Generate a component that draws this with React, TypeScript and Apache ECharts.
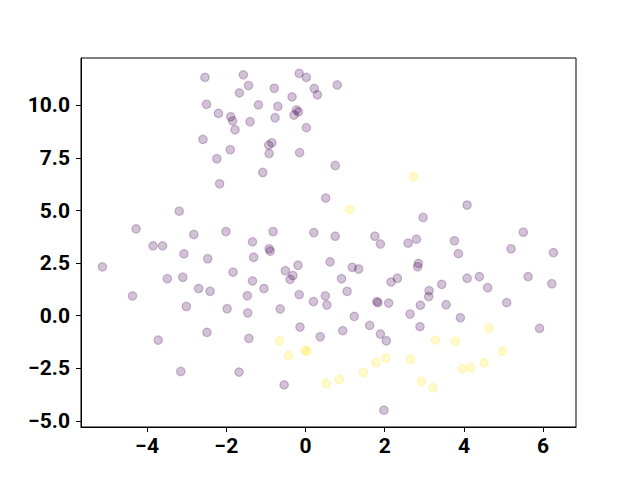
import React, { useEffect, useRef } from "react";
import * as echarts from "echarts";

const purpleX = [-2.54,-1.57,-0.16,0.02,-1.44,-1.67,-0.79,0.22,0.30,-0.34,0.80,-2.50,-1.19,-0.70,-2.20,-0.23,-0.18,-0.29,-1.89,-1.84,-1.40,-0.77,-1.78,0.02,-2.59,-0.85,-0.93,-1.90,-0.92,-0.15,-2.24,0.75,-1.08,-2.17,0.51,-3.19,-4.28,-2.82,-2.01,-0.82,0.21,-3.85,-3.61,-1.34,-0.92,-0.89,-3.07,-1.31,-2.47,-5.13,0.62,-1.83,-0.51,-0.19,-0.32,-0.39,-3.49,-3.10,-1.34,-2.70,-2.41,-1.05,-4.37,-1.47,-0.16,0.20,0.50,0.54,-3.01,-1.98,-1.46,-0.64,-0.14,-2.49,-1.43,-3.72,0.37,-3.15,-1.68,-0.54,4.08,2.97,0.75,1.75,1.89,2.59,2.80,3.76,3.86,5.50,5.19,6.26,1.18,1.34,2.85,2.83,0.91,2.16,2.32,3.44,4.08,4.39,4.60,5.62,6.22,1.05,1.80,1.83,2.10,3.12,3.11,2.90,3.55,5.08,1.23,2.64,3.91,0.94,1.62,1.89,2.04,2.89,5.91,1.98];
const purpleY = [11.33,11.45,11.52,11.33,10.94,10.59,10.81,10.80,10.50,10.40,10.97,10.05,10.02,9.95,9.62,9.78,9.69,9.54,9.46,9.26,9.22,9.41,8.84,8.94,8.38,8.22,8.11,7.89,7.71,7.75,7.46,7.14,6.81,6.27,5.59,4.97,4.13,3.86,4.00,4.00,3.95,3.32,3.32,3.51,3.18,3.07,2.94,2.78,2.71,2.32,2.56,2.07,2.14,2.40,1.91,1.73,1.76,1.83,1.65,1.29,1.16,1.29,0.94,0.95,1.00,0.67,0.94,0.51,0.44,0.33,0.13,0.32,-0.54,-0.79,-1.08,-1.16,-1.00,-2.65,-2.68,-3.29,5.26,4.67,3.78,3.78,3.41,3.45,3.64,3.56,2.95,3.97,3.18,3.00,2.30,2.22,2.49,2.33,1.76,1.60,1.78,1.49,1.78,1.86,1.33,1.86,1.52,1.16,0.67,0.62,0.60,1.19,0.91,0.50,0.52,0.62,-0.03,0.08,-0.10,-0.71,-0.46,-0.87,-1.19,-0.52,-0.60,-4.49];
const yellowX = [2.73,1.11,-0.66,-0.43,-0.01,0.04,0.52,3.28,3.78,4.63,4.97,2.03,1.78,2.65,1.46,0.85,2.93,3.22,3.96,4.17,4.51];
const yellowY = [6.60,5.05,-1.20,-1.89,-1.63,-1.70,-3.22,-1.16,-1.22,-0.59,-1.68,-2.01,-2.24,-2.08,-2.70,-3.03,-3.13,-3.43,-2.52,-2.46,-2.24];
const xTicks = [-4, -2, 0, 2, 4, 6];
const yTicks = [-5, -2.5, 0, 2.5, 5, 7.5, 10];

const minus = (s: string) => s.replace("-", "\u2212");

export default function App() {
  const ref = useRef<HTMLDivElement>(null);
  useEffect(() => {
    document.body.style.margin = "0";
    const chart = echarts.init(ref.current!, null, { renderer: "svg" });
    const labelStyle = {
      color: "#000",
      fontFamily: "Roboto",
      fontWeight: "bold" as const,
      fontSize: 21,
    };
    chart.setOption({
      animation: false,
      backgroundColor: "#fff",
      grid: {
        left: 81,
        top: 58,
        right: 64,
        bottom: 53,
        show: true,
        borderColor: "#000",
        borderWidth: 1,
        backgroundColor: "transparent",
      },
      xAxis: {
        type: "value",
        min: -5.67,
        max: 6.83,
        splitLine: { show: false },
        axisLine: { show: true, onZero: false, lineStyle: { color: "#000", width: 1 } },
        axisTick: { show: true, customValues: xTicks, length: 5, lineStyle: { color: "#000" } },
        axisLabel: {
          ...labelStyle,
          customValues: xTicks,
          margin: 8,
          formatter: (v: number) => minus(String(v)),
        },
      },
      yAxis: {
        type: "value",
        min: -5.29,
        max: 12.25,
        splitLine: { show: false },
        axisLine: { show: true, onZero: false, lineStyle: { color: "#000", width: 1 } },
        axisTick: { show: true, customValues: yTicks, length: 5, lineStyle: { color: "#000" } },
        axisLabel: {
          ...labelStyle,
          customValues: yTicks,
          margin: 11,
          formatter: (v: number) => minus(v.toFixed(1)),
        },
      },
      series: [
        {
          type: "scatter",
          data: purpleX.map((x, i) => [x, purpleY[i]]),
          symbolSize: 8.5,
          itemStyle: {
            color: "rgba(68,1,84,0.3)",
            borderColor: "rgba(68,1,84,0.3)",
            borderWidth: 1.2,
          },
          emphasis: { disabled: true },
        },
        {
          type: "scatter",
          data: yellowX.map((x, i) => [x, yellowY[i]]),
          symbolSize: 8.5,
          itemStyle: {
            color: "rgba(253,231,37,0.3)",
            borderColor: "rgba(253,231,37,0.3)",
            borderWidth: 1.2,
          },
          emphasis: { disabled: true },
        },
      ],
    });
    return () => chart.dispose();
  }, []);
  return <div ref={ref} style={{ width: 640, height: 480 }} />;
}
